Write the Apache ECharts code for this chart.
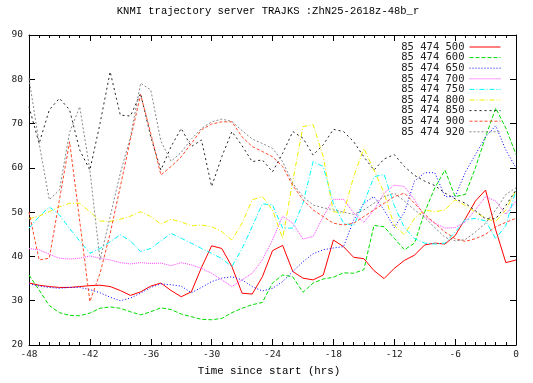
<!DOCTYPE html>
<html>
<head>
<meta charset="utf-8">
<script src="https://cdn.jsdelivr.net/npm/echarts@6/dist/echarts.min.js"></script>
<style>
html,body{margin:0;padding:0;background:#fff;}
#chart{width:533px;height:383px;}
</style>
</head>
<body>
<div id="chart"></div>
<script>
const titleText = 'KNMI trajectory server TRAJKS :ZhN25-2618z-48b_r';
const xAxisTitle = 'Time since start (hrs)';
const hours = [-48,-47,-46,-45,-44,-43,-42,-41,-40,-39,-38,-37,-36,-35,-34,-33,-32,-31,-30,-29,-28,-27,-26,-25,-24,-23,-22,-21,-20,-19,-18,-17,-16,-15,-14,-13,-12,-11,-10,-9,-8,-7,-6,-5,-4,-3,-2,-1,0];
const seriesNames = ['85 474 500','85 474 600','85 474 650','85 474 700','85 474 750','85 474 800','85 474 850','85 474 900','85 474 920'];

const p500 = [34,33.5,33.2,33,33,33.2,33.4,33.5,33.2,32.3,31.2,32,33.3,34,32.3,30.9,32,37.5,42.4,41.8,37.7,31.7,31.5,35.4,41.3,42.5,36.6,35.1,34.7,35.8,43.7,42.2,39.8,39.5,36.8,35,37.3,39.1,40.3,42.6,43,42.8,44.7,48.5,52.5,55,46,38.6,39.2];
const p600 = [35.8,32.4,28.9,27.3,26.7,26.6,27.2,28.3,28.6,28.3,27.5,26.8,27.5,28.4,28,27,26.4,25.8,25.7,26,27.3,28.3,29.1,29.6,34,35.8,35.4,31.9,34,34.9,35.3,36.3,36.2,37,47,46.7,44.1,41.5,43,50,55.5,59.5,53.5,54,60,67,73.5,69,63];
const p650 = [33.8,33.3,33,32.8,33,33,32.5,31.8,30.8,30,30.6,31.7,33,33.8,33.6,33.3,31.8,33,34.3,35.1,35.4,34.7,33.2,32.2,32.8,34.3,36.6,38.8,40.6,41.5,41.9,42.2,48.2,52,53.5,50.5,46.5,50,57,58.9,58.9,53.5,53.5,59,63,67,69.5,64,60];
const p700 = [41.8,41.5,40.5,39.6,39.4,39.6,40.1,39.6,39.2,38.6,38.3,38.6,38.4,38.5,37.9,38.6,38.1,37.3,36.2,34.7,33.2,34.7,36.2,39.2,43.7,49.1,47.5,43.9,44.5,49,52.9,52.9,49.8,47.7,50.5,54.3,56.1,55.8,52.8,49,47.5,46.4,46.5,47.8,50.5,53.5,52.5,49.5,52.5];
const p750 = [46.4,49,51.2,49.4,46.3,43.5,40.7,41.8,43.3,44.9,43.5,41.1,41.8,43.5,45.2,44.1,43,41.8,40.7,39.5,37.7,41.8,46.7,51.9,51.6,46.4,46.4,52,61.4,60.3,52,47.5,47,52,58,58.5,51.5,46.5,44,43,42.8,43,45.5,48.3,48.6,48,44,47,55];
const p800 = [48.5,49.1,50.1,51.2,52,52,50.1,48,47.9,48.4,49.1,50.1,49,47.3,48.4,47.8,46.9,47.1,46.7,45.6,43.7,47.5,52.8,53.5,50.5,44.1,57,69.3,69.8,62.5,50.1,49.8,58,64.4,59.5,54.3,47,44.9,48.6,50.5,50.1,50.5,52.8,51.5,50,48.6,47.9,50.5,55];
const p850 = [73.8,65.5,73.1,75.7,73.1,64,59.5,70,81.7,71.9,71.7,76.8,67,59.5,64.8,68.9,64.8,66.3,55.8,62.5,68.2,65,61.4,61.8,59.1,63.3,68.2,66.7,62.9,65.2,68.7,68.2,65.9,62.5,59.5,62,63,60.3,58.3,57,56,54.3,53,52,50.3,48.5,48.5,51.5,55];
const p900 = [50,39.2,39.6,52.8,65.9,48,29.8,36.2,45.2,55.8,66.5,76.5,67.8,58.4,60.3,62.5,65.5,68.6,69.9,70.4,70.4,67,64.8,63.7,62.5,60.3,56,52.8,50.5,49,47.5,47.1,47.5,49,50.5,52,53.5,54.3,52,49.5,47.5,45.5,44,43.4,44,45,46.7,47.7,48.6];
const p920 = [80.2,65.5,52.8,55,68,73.8,59.5,39.2,49,58.8,67,79.1,77.6,66,61.5,63.5,66.5,68.9,70.4,71,70.5,68.4,66.5,65.5,64.4,61.4,56.5,53.5,51.6,51,50.5,50,49.5,50.5,52,53.5,54.3,52.5,50.5,48.8,46.5,44.3,43.5,43.8,45.5,47.5,50.5,54,55.5];

const xTicks = {min: -48, max: 0, interval: 6};
const yTicks = {min: 20, max: 90, interval: 10};

const allValues = [p500,p600,p650,p700,p750,p800,p850,p900,p920];
const colors = ['#ff0000','#00dd00','#0000ff','#ff40ff','#00ffff','#f0f000','#222222','#ff4a2a','#888888'];
const dashes = ['solid',[4,2],[1,2],[1,1],[5,2,1,2],[5,2,1,2],[2,3],[3,2],[2,2]];

const chart = echarts.init(document.getElementById('chart'), null, {renderer:'canvas'});
const monoLabel = '"DejaVu Sans Mono", monospace';
const axisLineStyle = {color:'#000', width:1};

const series = allValues.map((vals, i) => ({
  name: seriesNames[i],
  type: 'line',
  xAxisIndex: 0, yAxisIndex: 0,
  data: hours.map((h, j) => [h, vals[j]]),
  showSymbol: false,
  symbol: 'none',
  lineStyle: {width: 1, color: colors[i], type: dashes[i]},
  itemStyle: {color: colors[i]},
  animation: false,
  z: 2 + i
}));

function xAx(pos, showLabel){
  return {
    type:'value', position: pos, min: xTicks.min, max: xTicks.max, interval: xTicks.interval,
    axisLine:{show:true, onZero:false, lineStyle:axisLineStyle},
    axisTick:{show:true, inside:true, length:6, lineStyle:axisLineStyle},
    minorTick:{show:true, splitNumber:6, length:3, lineStyle:axisLineStyle},
    splitLine:{show:false}, minorSplitLine:{show:false},
    axisLabel:{show:showLabel, margin:5, fontSize:9.5, fontFamily:monoLabel, color:'#222'}
  };
}
function yAx(pos, showLabel){
  return {
    type:'value', position: pos, min: yTicks.min, max: yTicks.max, interval: yTicks.interval,
    axisLine:{show:true, onZero:false, lineStyle:axisLineStyle},
    axisTick:{show:true, inside:true, length:6, lineStyle:axisLineStyle},
    splitLine:{show:false},
    axisLabel:{show:showLabel, margin:6, fontSize:9.5, fontFamily:monoLabel, color:'#222'}
  };
}

chart.setOption({
  animation: false,
  backgroundColor: '#fff',
  grid: {left:29, right:17, top:35, bottom:38, containLabel:false},
  xAxis: [xAx('bottom', true), xAx('top', false)],
  yAxis: [yAx('left', true), yAx('right', false)],
  legend: {
    data: seriesNames.map((n, i) => ({
      name: n,
      lineStyle: {color: colors[i], width: 1, type: dashes[i]}
    })),
    orient: 'vertical',
    right: 32, top: 41.5,
    align: 'right',
    itemWidth: 31, itemHeight: 9, itemGap: -0.4,
    padding: 0,
    itemStyle: {opacity: 0, borderWidth: 0},
    textStyle: {fontFamily: monoLabel, fontSize: 10.5, color:'#222'},
    selectedMode: false
  },
  graphic: [
    {type:'text', x:268, y:11, style:{text:titleText, font:'10.5px "Liberation Mono", monospace', fill:'#000', textAlign:'center', textVerticalAlign:'middle'}},
    {type:'text', x:269, y:371, style:{text:xAxisTitle, font:'10.8px "Liberation Mono", monospace', fill:'#000', textAlign:'center', textVerticalAlign:'middle'}}
  ],
  series: series
});
</script>
</body>
</html>
